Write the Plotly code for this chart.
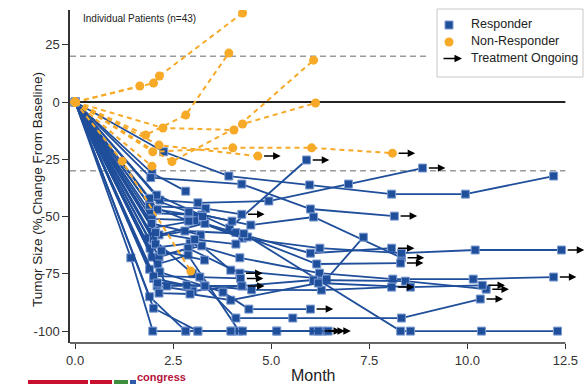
import plotly.graph_objects as go

# ---------------- data ----------------
responder_months = [
    [0, 2.26, 3.92, 5.98, 8.07, 9.95, 12.2],
    [0, 2.16, 3.13, 4.94, 6.97, 8.86],
    [0, 2.08, 3.94, 5.9],
    [0, 1.96, 2.82],
    [0, 1.93, 4.25, 6.0, 8.14],
    [0, 1.91, 3.33, 4.25],
    [0, 1.93, 3.23, 4.48, 6.08, 8.32],
    [0, 1.96, 2.88, 4.1, 6.0, 8.07],
    [0, 1.96, 3.05, 4.27, 6.24, 8.32, 10.2, 12.4],
    [0, 2.14, 3.31, 4.4, 6.16, 8.3],
    [0, 1.86, 2.8, 4.3, 8.3, 8.55, 10.36, 12.3],
    [0, 1.91, 2.93, 4.2, 6.23, 8.1, 10.15, 12.2],
    [0, 1.96, 3.23, 3.97, 6.41, 7.35],
    [0, 2.14, 2.88, 4.2],
    [0, 1.42, 1.98, 2.82, 3.13, 4.0],
    [0, 2.11, 2.88, 4.18, 5.14, 6.08, 6.3],
    [0, 2.09, 3.0, 4.25, 6.08, 8.42, 10.48],
    [0, 2.34, 3.31, 4.5, 6.28, 8.07],
    [0, 2.14, 2.93, 3.97, 6.2, 8.55, 10.38],
    [0, 2.16, 3.77, 4.43, 6.0],
    [0, 2.0, 3.0, 4.1, 5.55, 8.32, 10.33],
    [0, 1.9, 2.82, 4.27, 5.14, 6.2],
    [0, 2.0, 3.13, 3.97, 6.45],
    [0, 1.9, 2.9],
    [0, 2.05],
    [0, 1.95, 3.2],
    [0, 2.1, 3.25],
    [0, 1.9],
    [0, 2.0, 2.85],
    [0, 2.05, 3.05, 4.1],
    [0, 2.2, 3.3],
    [0, 1.9, 2.9, 4.0],
    [0, 2.0, 3.18, 4.22],
    [0, 2.1, 3.31, 4.25],
]
responder_change = [
    [0, -21.7, -32.3, -36.2, -40.2, -40.2, -32.3],
    [0, -42.8, -44, -43.2, -35.8, -28.8],
    [0, -40.6, -55, -25.3],
    [0, -31, -38.9],
    [0, -33, -35.8, -46.7, -49.8],
    [0, -45.4, -46.5, -49],
    [0, -48.5, -49.3, -53.7, -50.2, -68],
    [0, -51, -51.5, -57, -66, -63.8],
    [0, -55, -51.8, -59.4, -63.8, -66, -64.6, -64.6],
    [0, -58, -53, -58.9, -70.7, -70.3],
    [0, -59.4, -56.3, -57.5, -100, -100, -100, -100],
    [0, -63.8, -61.7, -68, -74.7, -77.3, -77.3, -76.4],
    [0, -67.7, -62.8, -73.4, -77.3, -59],
    [0, -67.7, -63.8, -74.7],
    [0, -68, -100, -100, -100, -100],
    [0, -70.7, -66.8, -100, -100, -100, -100],
    [0, -80.3, -82.5, -80.3, -77.7, -78.2, -81.7],
    [0, -80.3, -80.3, -82, -82.1, -80.8],
    [0, -83.4, -83.8, -86.5, -79, -80.8, -80],
    [0, -74.2, -83, -90.4, -90.4],
    [0, -60, -75, -94.3, -94.3, -94.3, -86],
    [0, -85, -100, -100, -100, -100],
    [0, -90, -100, -100, -100],
    [0, -45, -52],
    [0, -62],
    [0, -53, -58],
    [0, -47, -50],
    [0, -73],
    [0, -77, -80],
    [0, -57, -60, -62],
    [0, -65, -69],
    [0, -42, -48, -52],
    [0, -76, -76.4, -77],
    [0, -79, -80.3, -80.3],
]
responder_ongoing = [
    False, True, True, False, True, True, True, True, True, True,
    False, True, False, True, False, True, True, True, True, True,
    True, True, True, False, False, False, False, False, False, False,
    False, False, True, True,
]

nonresp_months = [
    [0, 2.0, 2.15, 4.27],
    [0, 1.65],
    [0, 1.8, 2.82, 3.92],
    [0, 2.24, 4.05, 6.08],
    [0, 2.47, 4.27, 6.13],
    [0, 1.98, 4.02, 6.03, 8.09],
    [0, 2.14, 4.66],
    [0, 1.2, 2.95],
    [0, 1.96],
]
nonresp_change = [
    [0, 8.3, 11.4, 38.9],
    [0, 7],
    [0, -14.4, -5.7, 21.4],
    [0, -11.3, -12.2, 18.3],
    [0, -26, -9.6, -0.4],
    [0, -21.7, -20, -20, -22.3],
    [0, -18.8, -23.6],
    [0, -25.8, -73.8],
    [0, -28],
]
nonresp_ongoing = [False, False, False, False, False, True, True, False, False]

x_ticks = [0, 2.5, 5.0, 7.5, 10.0, 12.5]
x_tick_labels = ["0.0", "2.5", "5.0", "7.5", "10.0", "12.5"]
y_ticks = [-100, -75, -50, -25, 0, 25]
y_tick_labels = ["-100", "-75", "-50", "-25", "0", "25"]
ref_levels = [20, -30]

BLUE = "#1F4E9B"
BLUE_EDGE = "#7D9CD2"
ORANGE = "#F7A928"
FONT = "Liberation Sans"

fig = go.Figure()

for m, c in zip(responder_months, responder_change):
    fig.add_trace(go.Scatter(
        x=m, y=c, mode="lines+markers", showlegend=False, hoverinfo="skip",
        line=dict(color=BLUE, width=1.8),
        marker=dict(symbol="square", size=8, color=BLUE,
                    line=dict(color=BLUE_EDGE, width=1)),
    ))

for m, c in zip(nonresp_months, nonresp_change):
    fig.add_trace(go.Scatter(
        x=m, y=c, mode="lines+markers", showlegend=False, hoverinfo="skip",
        line=dict(color=ORANGE, width=2, dash="5px,4px"),
        marker=dict(symbol="circle", size=9, color=ORANGE),
    ))

# arrows for ongoing treatment
annotations = []
for group_m, group_c, group_on in [(responder_months, responder_change, responder_ongoing),
                                   (nonresp_months, nonresp_change, nonresp_ongoing)]:
    for m, c, on in zip(group_m, group_c, group_on):
        if on:
            annotations.append(dict(
                x=m[-1] + 0.58, y=c[-1], ax=m[-1] + 0.12, ay=c[-1],
                xref="x", yref="y", axref="x", ayref="y",
                text="", showarrow=True, arrowhead=2, arrowsize=1,
                arrowwidth=1.5, arrowcolor="black",
            ))

shapes = []
# reference lines
shapes.append(dict(type="line", xref="x", yref="y", x0=-0.13, x1=8.96,
                   y0=ref_levels[0], y1=ref_levels[0],
                   line=dict(color="#9a9a9a", width=1.5, dash="6px,4px"), layer="below"))
shapes.append(dict(type="line", xref="x", yref="y", x0=-0.13, x1=12.5,
                   y0=ref_levels[1], y1=ref_levels[1],
                   line=dict(color="#9a9a9a", width=1.5, dash="6px,4px"), layer="below"))
shapes.append(dict(type="line", xref="x", yref="y", x0=-0.13, x1=12.5, y0=0, y1=0,
                   line=dict(color="#222222", width=2), layer="below"))
# x axis line limited to 12.5
shapes.append(dict(type="line", xref="x", yref="paper", x0=-0.13, x1=12.5, y0=0, y1=0,
                   line=dict(color="#333333", width=1.5)))

# ---- legend (manual) ----
W, H = 585, 384
L, R, T, B = 70, 0, 10, 41
pw, ph = W - L - R, H - T - B


def px(xp):
    return (xp - L) / pw


def py(yp):
    return (H - B - yp) / ph


shapes.append(dict(type="rect", xref="paper", yref="paper",
                   x0=px(437), x1=px(583), y0=py(77), y1=py(9),
                   line=dict(color="#c8c8c8", width=1), fillcolor="white"))
shapes.append(dict(type="rect", xref="paper", yref="paper",
                   x0=px(445), x1=px(453), y0=py(29), y1=py(21),
                   line=dict(color=BLUE_EDGE, width=1), fillcolor=BLUE))
shapes.append(dict(type="circle", xref="paper", yref="paper",
                   x0=px(444.5), x1=px(453.5), y0=py(46.5), y1=py(37.5),
                   line=dict(color=ORANGE, width=0), fillcolor=ORANGE))
annotations.append(dict(xref="paper", yref="paper", x=px(462), y=py(58.5),
                        ax=-20, ay=0, text="", showarrow=True, arrowhead=2,
                        arrowsize=1, arrowwidth=1.5, arrowcolor="black"))
for label, ypos in [("Responder", 24), ("Non-Responder", 41), ("Treatment Ongoing", 58)]:
    annotations.append(dict(xref="paper", yref="paper", x=px(469), y=py(ypos),
                            xanchor="left", yanchor="middle", showarrow=False,
                            text=label, font=dict(family=FONT, size=12.5, color="#222")))

annotations.append(dict(xref="paper", yref="paper", x=px(81), y=py(19),
                        xanchor="left", yanchor="middle", showarrow=False,
                        text="Individual Patients (n=43)",
                        font=dict(family=FONT, size=10, color="#222")))
annotations.append(dict(xref="paper", yref="paper", x=px(37), y=py(190),
                        xanchor="center", yanchor="middle", showarrow=False, textangle=-90,
                        text="Tumor Size (% Change From Baseline)",
                        font=dict(family=FONT, size=13.5, color="#222")))
annotations.append(dict(xref="paper", yref="paper", x=px(313), y=py(375),
                        xanchor="center", yanchor="middle", showarrow=False,
                        text="Month", font=dict(family=FONT, size=16, color="#222")))
# partially visible logo at bottom-left
annotations.append(dict(xref="paper", yref="paper", x=px(135), y=py(377),
                        xanchor="left", yanchor="middle", showarrow=False,
                        text="<b>congress</b>", font=dict(family=FONT, size=11, color="#b5123a")))
for x0, x1, col in [(28, 88, "#c8102e"), (90, 112, "#c8102e"), (114, 128, "#3d8f3d"), (130, 136, "#2a5caa")]:
    shapes.append(dict(type="rect", xref="paper", yref="paper",
                       x0=px(x0), x1=px(x1), y0=py(384), y1=py(380),
                       line=dict(width=0), fillcolor=col))

fig.update_layout(
    width=W, height=H,
    margin=dict(l=L, r=R, t=T, b=B),
    plot_bgcolor="white", paper_bgcolor="white",
    showlegend=False,
    shapes=shapes, annotations=annotations,
    font=dict(family=FONT, color="#333"),
    xaxis=dict(range=[-0.13, 13.0], tickvals=x_ticks, ticktext=x_tick_labels,
               showgrid=False, zeroline=False, showline=False,
               ticks="outside", ticklen=5, tickcolor="#333", tickwidth=1.2,
               tickfont=dict(family=FONT, size=13, color="#333")),
    yaxis=dict(range=[-105.2, 40.2], tickvals=y_ticks, ticktext=y_tick_labels,
               showgrid=False, zeroline=False, showline=True, linecolor="#333", linewidth=1.5,
               ticks="outside", ticklen=6, tickcolor="#333", tickwidth=1.2,
               tickfont=dict(family=FONT, size=13, color="#333")),
)

fig.write_html(
    "out.html",
    config={"displayModeBar": False},
    post_script="document.body.style.margin='0';document.body.style.overflow='hidden';",
)
